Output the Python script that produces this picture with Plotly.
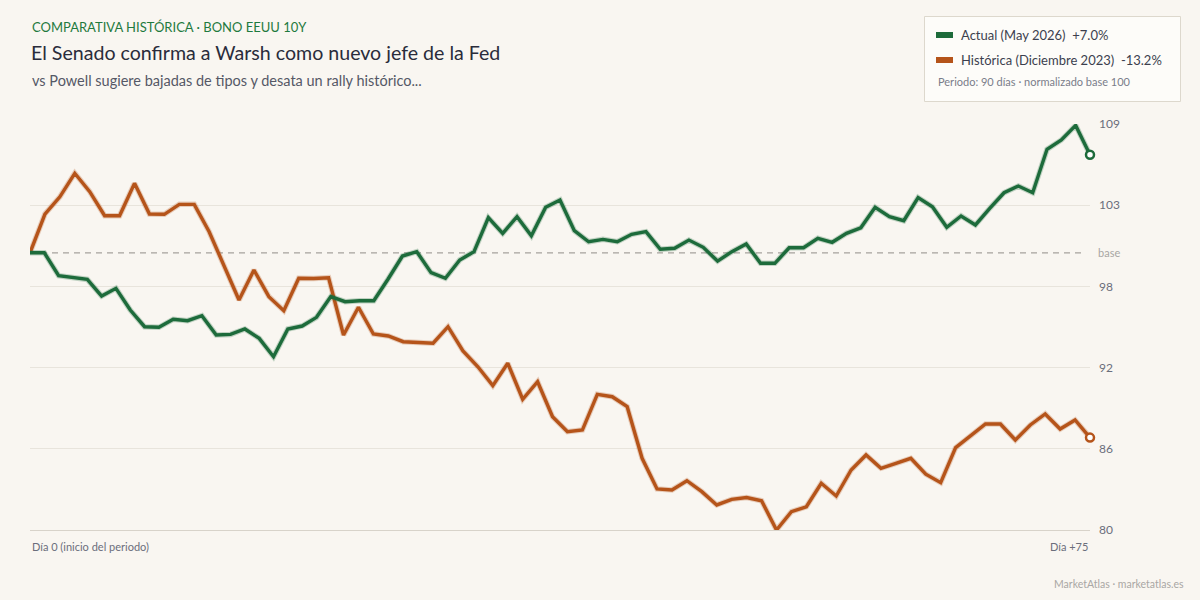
import numpy as np
import plotly.graph_objects as go

# ---------------- data ----------------
actual_name = "Actual (May 2026)"
hist_name = "Histórica (Diciembre 2023)"

actual_vals = [
    100.0, 100.0, 98.37, 98.25, 98.1, 96.91, 97.46, 95.91, 94.72, 94.68,
    95.25, 95.15, 95.51, 94.13, 94.17, 94.56, 93.89, 92.58, 94.56, 94.77,
    95.39, 96.87, 96.51, 96.58, 96.58, 98.13, 99.77, 100.08, 98.58, 98.18,
    99.49, 100.08, 102.51, 101.39, 102.58, 101.22, 103.25, 103.77, 101.58, 100.79,
    100.96, 100.79, 101.32, 101.51, 100.25, 100.32, 100.91, 100.39, 99.41, 100.08,
    100.63, 99.25, 99.25, 100.36, 100.36, 101.04, 100.75, 101.39, 101.79, 103.25,
    102.58, 102.29, 103.94, 103.29, 101.82, 102.63, 101.99, 103.18, 104.29, 104.77,
    104.29, 107.39, 108.06, 109.1, 107.0,
]

hist_vals = [
    100.0, 102.77, 104.0, 105.68, 104.37, 102.65, 102.65, 104.96, 102.77, 102.75,
    103.46, 103.46, 101.5, 99.0, 96.63, 98.77, 96.87, 95.87, 98.18, 98.16,
    98.22, 94.13, 96.11, 94.2, 94.06, 93.65, 93.61, 93.54, 94.72, 92.99,
    91.86, 90.51, 92.11, 89.54, 90.79, 88.29, 87.22, 87.34, 89.89, 89.72,
    89.01, 85.32, 83.13, 83.06, 83.72, 82.94, 81.99, 82.39, 82.52, 82.29,
    80.2, 81.51, 81.86, 83.54, 82.63, 84.49, 85.56, 84.61, 84.96, 85.32,
    84.19, 83.58, 86.08, 86.91, 87.77, 87.77, 86.63, 87.7, 88.49, 87.41,
    88.06, 86.8,
]

y_tick_vals = [80.2, 86.0, 91.8, 97.6, 103.4, 109.2]
y_tick_text = ["80", "86", "92", "98", "103", "109"]
base_value = 100
day_span = 75
x_label_text = ["Día 0 (inicio del periodo)", "Día +75"]

eyebrow = "COMPARATIVA HISTÓRICA · BONO EEUU 10Y"
title = "El Senado confirma a Warsh como nuevo jefe de la Fed"
subtitle = "vs Powell sugiere bajadas de tipos y desata un rally histórico..."
period_note = "Periodo: 90 días · normalizado base 100"
footer = "MarketAtlas · marketatlas.es"

# ---------------- style ----------------
BG = "#f9f6f1"
GREEN = "#1d6b3b"
ORANGE = "#b5541a"
FONT = "Lato"

ML, MR, MT, MB = 30, 110, 124, 70
W, H = 1200, 600
PW, PH = W - ML - MR, H - MT - MB


def px_x(px):
    return (px - ML) / PW


def px_y(py):
    return (H - MB - py) / PH


actual_x = np.linspace(0, day_span, len(actual_vals))
hist_x = np.linspace(0, day_span, len(hist_vals))

fig = go.Figure()

series = [
    (hist_name, hist_x, hist_vals, ORANGE),
    (actual_name, actual_x, actual_vals, GREEN),
]
for name, xs, ys, col in series:
    # soft halo under line
    fig.add_trace(go.Scatter(
        x=xs, y=ys, mode="lines", line=dict(color=col, width=5.5),
        opacity=0.25, hoverinfo="skip", showlegend=False, cliponaxis=False,
    ))
    fig.add_trace(go.Scatter(
        x=xs, y=ys, mode="lines", name=name,
        line=dict(color=col, width=3.4, shape="linear"),
        showlegend=False, cliponaxis=False,
    ))
    fig.add_trace(go.Scatter(
        x=[xs[-1]], y=[ys[-1]], mode="markers",
        marker=dict(size=8, color="white", line=dict(color=col, width=2.5)),
        showlegend=False, cliponaxis=False, hoverinfo="skip",
    ))

# base line
fig.add_shape(type="line", xref="paper", yref="y", x0=0, x1=0.995,
              y0=base_value, y1=base_value,
              line=dict(color="#a6a29d", width=1.2, dash="6px,5px"), layer="below")

annotations = []
# header
annotations.append(dict(text=eyebrow, x=px_x(30), y=px_y(27), xref="paper", yref="paper",
                        xanchor="left", yanchor="middle", showarrow=False,
                        font=dict(family=FONT, size=13, color="#1f7a3e")))
annotations.append(dict(text=title, x=px_x(29), y=px_y(52.5), xref="paper", yref="paper",
                        xanchor="left", yanchor="middle", showarrow=False,
                        font=dict(family=FONT, size=19.6, color="#2a2c3b")))
annotations.append(dict(text=subtitle, x=px_x(30), y=px_y(81), xref="paper", yref="paper",
                        xanchor="left", yanchor="middle", showarrow=False,
                        font=dict(family=FONT, size=14.5, color="#555866")))

# base label
annotations.append(dict(text="base", x=1, y=base_value, xref="paper", yref="y",
                        xanchor="left", yanchor="middle", xshift=6, showarrow=False,
                        font=dict(family=FONT, size=11, color="#a8a6a3")))

# x labels
annotations.append(dict(text=x_label_text[0], x=0, y=px_y(546.5), xref="x", yref="paper",
                        xanchor="left", yanchor="middle", showarrow=False,
                        font=dict(family=FONT, size=11, color="#6b6e7c")))
annotations.append(dict(text=x_label_text[1], x=day_span, y=px_y(546.5), xref="x", yref="paper",
                        xanchor="right", yanchor="middle", showarrow=False,
                        font=dict(family=FONT, size=11, color="#6b6e7c")))

# footer
annotations.append(dict(text=footer, x=px_x(1186), y=px_y(584), xref="paper", yref="paper",
                        xanchor="right", yanchor="middle", showarrow=False,
                        font=dict(family=FONT, size=10.5, color="#a9a7a4")))

# legend box
fig.add_shape(type="rect", xref="paper", yref="paper",
              x0=px_x(924.5), x1=px_x(1180.5), y0=px_y(101.5), y1=px_y(16.5),
              fillcolor="#fdfcf9", line=dict(color="#ddd8cd", width=1))
legend_rows = [
    (actual_name, actual_vals, GREEN, 35),
    (hist_name, hist_vals, ORANGE, 60),
]
for name, vals, col, cy in legend_rows:
    chg = (vals[-1] / vals[0] - 1) * 100
    fig.add_shape(type="rect", xref="paper", yref="paper",
                  x0=px_x(936), x1=px_x(953), y0=px_y(cy + 3), y1=px_y(cy - 3),
                  fillcolor=col, line=dict(width=0))
    annotations.append(dict(text=f"{name}  {chg:+.1f}%", x=px_x(959), y=px_y(cy),
                            xref="paper", yref="paper", xanchor="left", yanchor="middle",
                            showarrow=False,
                            font=dict(family=FONT, size=13, color="#3c3f4e")))
annotations.append(dict(text=period_note, x=px_x(936), y=px_y(81.5), xref="paper", yref="paper",
                        xanchor="left", yanchor="middle", showarrow=False,
                        font=dict(family=FONT, size=11, color="#7a7d8a")))

fig.update_layout(
    width=W, height=H,
    margin=dict(l=ML, r=MR, t=MT, b=MB, pad=0),
    paper_bgcolor=BG, plot_bgcolor=BG,
    showlegend=False,
    annotations=annotations,
    font=dict(family=FONT),
    xaxis=dict(range=[0, day_span], showgrid=False, zeroline=False,
               showticklabels=False, ticks="", showline=True,
               linecolor="#d8d3ca", linewidth=1, fixedrange=True),
    yaxis=dict(range=[y_tick_vals[0], y_tick_vals[-1]], side="right",
               tickvals=y_tick_vals, ticktext=y_tick_text,
               showgrid=True, gridcolor="#e8e4dc", gridwidth=1,
               zeroline=False, ticks="", ticklabelstandoff=8,
               tickfont=dict(family=FONT, size=12, color="#6b6e7c"),
               fixedrange=True),
)

fig.write_html("out.html", config={"displayModeBar": False})
